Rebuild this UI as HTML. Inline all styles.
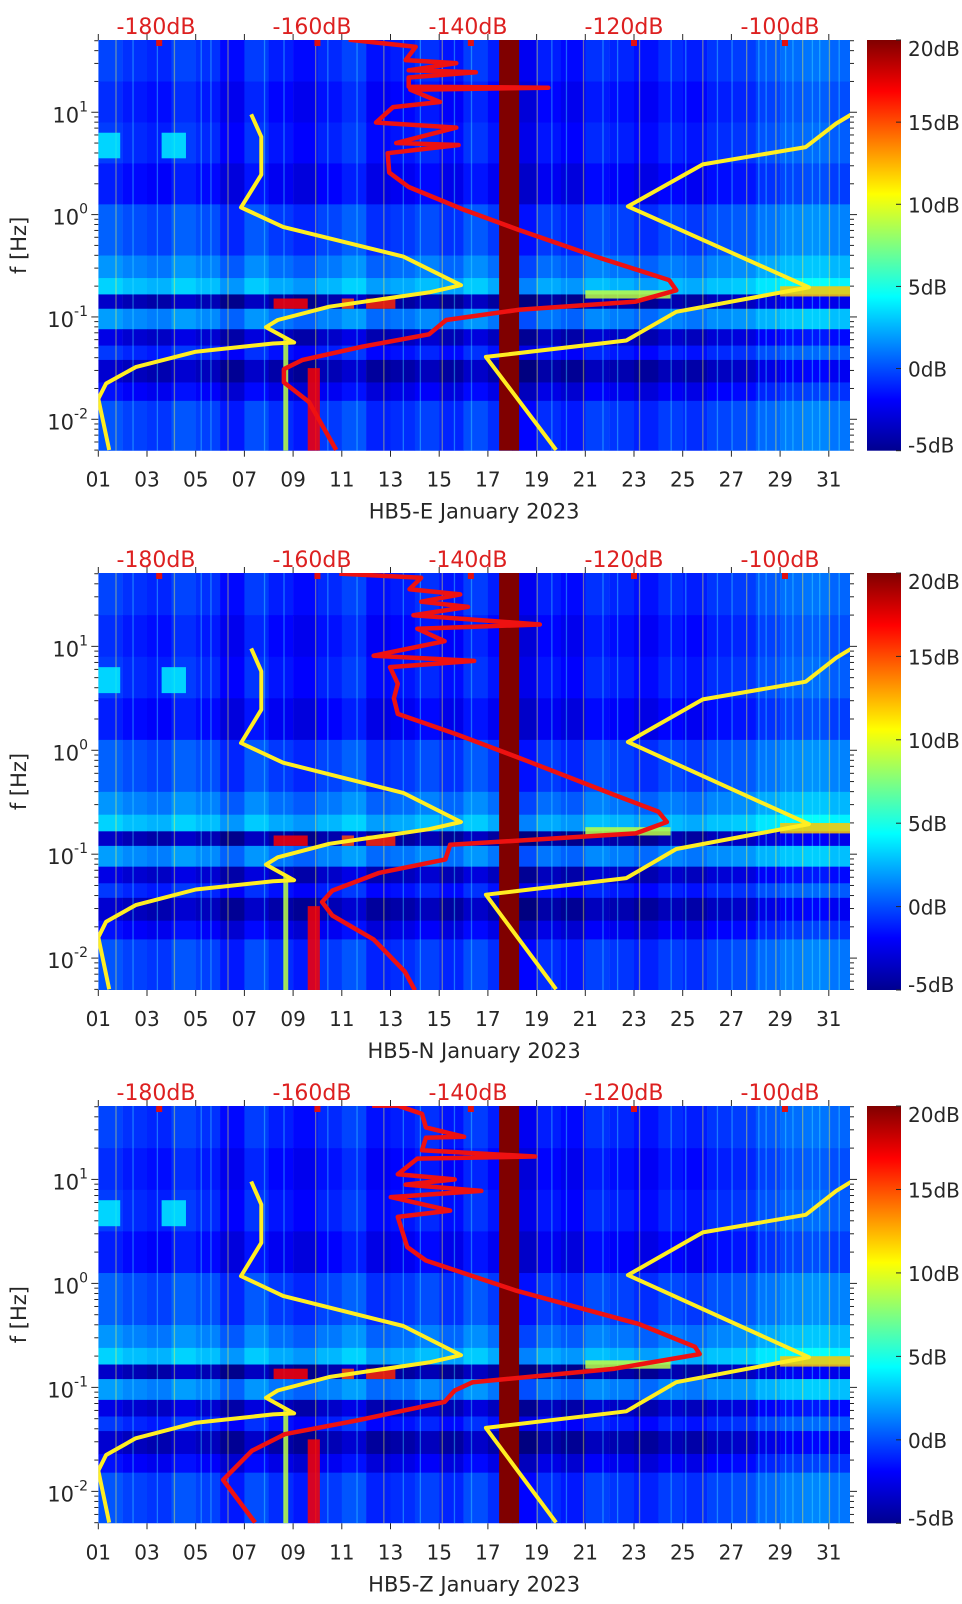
<!DOCTYPE html>
<html><head><meta charset="utf-8">
<style>
html,body{margin:0;padding:0;background:#fff;}
svg text{font-family:"DejaVu Sans","Liberation Sans",sans-serif;}
</style></head>
<body>
<svg id="fig" width="962" height="1599" viewBox="0 0 962 1599" xmlns="http://www.w3.org/2000/svg">
<defs>
<linearGradient id="jet" x1="0" y1="1" x2="0" y2="0">
<stop offset="0" stop-color="#00008f"/><stop offset="0.125" stop-color="#0000ff"/>
<stop offset="0.375" stop-color="#00ffff"/><stop offset="0.625" stop-color="#ffff00"/>
<stop offset="0.875" stop-color="#ff0000"/><stop offset="1" stop-color="#800000"/>
</linearGradient>
</defs>
</svg>
<script>
// ---- data ----
const panelNames = ["HB5-E January 2023","HB5-N January 2023","HB5-Z January 2023"];
const dayTickLabels = ["01","03","05","07","09","11","13","15","17","19","21","23","25","27","29","31"];
const dayTickValues = [1,3,5,7,9,11,13,15,17,19,21,23,25,27,29,31];
const dbTickLabels = ["-180dB","-160dB","-140dB","-120dB","-100dB"];
const dbTickValues = [-180,-160,-140,-120,-100];
const freqMajorExp = [1,0,-1,-2];
const cbarLabels = ["20dB","15dB","10dB","5dB","0dB","-5dB"];
const cbarValues = [20,15,10,5,0,-5];
const bandEdges = [1.706,1.3,0.9,0.5,0.1,-0.4,-0.62,-0.78,-0.92,-1.12,-1.28,-1.42,-1.64,-1.82,-2.307];
const bandLevels = [-1.2,-1.8,-1.4,-2.2,-0.5,0.8,2.3,-4.2,1.0,-3.5,-1.5,-4,-2.5,-0.8];
const dayOffsets = [1,0.5,0.2,1,0.5,-0.5,0.8,0,-0.5,0.3,1,-0.3,0,0.5,-0.2,0.8,0,-1,0,-0.5,0.5,0.2,-0.3,0.4,0,0.6,0.8,1.5,2,2.2,1.8];
const streakDays = [1.7,2.4,3.4,4.1,5.2,5.6,6.3,7.8,8.6,9.9,10.4,11.6,12.7,13.5,14.2,15.1,15.6,16.3,19.0,19.6,20.2,20.9,21.7,22.3,23.2,24.5,25.1,25.8,26.4,27.0,27.6,28.1,28.4,28.8,29.2,29.5,29.9,30.3,30.6,31.0,31.4];
// features: [dayStart, dayEnd, logfLo, logfHi, dB]
const features = [[8.2,9.6,-0.92,-0.82,17],[11.0,11.5,-0.92,-0.82,15],[12.0,13.2,-0.92,-0.82,16],[21,24.5,-0.82,-0.74,9],[29,31.87,-0.8,-0.7,12],[1,1.9,0.55,0.8,4],[3.6,4.6,0.55,0.8,4],[9.6,10.1,-2.307,-1.5,17],[8.6,8.8,-2.307,-1.2,9]];
const bandMarkerDays = [3.5,10,16.3,23,29.2];
const outageBar = [17.46,18.28];
// noise models (dB, log10 f)
const nlnmDb = [-167.8,-166.5,-166.5,-169.1,-163.7,-148.3,-140.9,-145.0,-157.8,-164.4,-165.9,-162.3,-165.0,-174.9,-182.6,-186.4,-187.4,-186.0];
const nlnmLogf = [0.98,0.76,0.39,0.07,-0.12,-0.41,-0.69,-0.76,-0.90,-1.03,-1.10,-1.25,-1.26,-1.34,-1.49,-1.65,-1.80,-2.30];
const nhnmDb = [-86,-92.8,-96.7,-109.9,-119.5,-96.3,-113.3,-119.7,-137.7,-128.7];
const nhnmLogf = [1.2,0.89,0.66,0.49,0.08,-0.71,-0.95,-1.23,-1.39,-2.30];
// measured PSD per panel
const psdEDb = [-155.3,-146.7,-148.0,-141.5,-147.6,-139.0,-147.6,-147.6,-129.7,-147.4,-143.6,-149.6,-151.8,-141.5,-149.2,-141.2,-150.3,-150.1,-147.6,-140.6,-133.5,-123.6,-114.2,-113.3,-118.5,-133.5,-142.8,-145.0,-153.5,-161.2,-163.6,-163.6,-160.4,-156.9];
const psdELogf = [1.71,1.64,1.51,1.48,1.41,1.39,1.34,1.25,1.24,1.22,1.10,1.05,0.90,0.85,0.70,0.68,0.60,0.41,0.27,0.05,-0.15,-0.41,-0.64,-0.74,-0.85,-0.93,-1.03,-1.17,-1.29,-1.42,-1.51,-1.64,-1.83,-2.30];
const psdNDb = [-156.5,-146.0,-147.5,-141.0,-146.0,-140.0,-147.0,-130.8,-146.5,-143,-152.1,-139.2,-150,-149,-149.5,-149,-141.7,-133.2,-121.2,-115.6,-114.5,-118.5,-142.3,-142.9,-151.4,-157.4,-158.7,-157.4,-152.1,-148.1,-146.8];
const psdNLogf = [1.70,1.66,1.55,1.50,1.43,1.38,1.30,1.21,1.17,1.05,0.91,0.86,0.80,0.64,0.50,0.35,0.16,-0.08,-0.43,-0.59,-0.69,-0.80,-0.91,-1.05,-1.18,-1.35,-1.46,-1.59,-1.82,-2.13,-2.31];
const psdZDb = [-152.3,-149,-145.9,-145.4,-140.5,-145.4,-145.9,-131.4,-146.5,-149,-141.7,-148,-138.3,-149.9,-142.3,-149,-147.8,-145.4,-133.8,-118.1,-110.9,-110.3,-121.2,-139.4,-141.7,-143.0,-154.4,-163.5,-167.7,-171.4,-167.3];
const psdZLogf = [1.71,1.71,1.63,1.50,1.41,1.40,1.28,1.22,1.20,1.05,1.00,0.95,0.89,0.83,0.70,0.64,0.35,0.22,-0.07,-0.39,-0.61,-0.68,-0.82,-0.95,-1.03,-1.14,-1.32,-1.45,-1.61,-1.89,-2.30];
const psdDb = [psdEDb, psdNDb, psdZDb];
const psdLogf = [psdELogf, psdNLogf, psdZLogf];

// ---- layout ----
const NS = "http://www.w3.org/2000/svg";
const svg = document.getElementById('fig');
const panelTops = [40,573,1106], panelBots = [450.7,990,1523.3];
const X0 = 98.3, X1 = 850, FMAX = 1.706, FMIN = -2.307;
const xDay = d => X0 + (d-1)*24.35;
const xDb = db => 156 + (db+180)*7.8;
function mk(tag, attrs, parent){const e=document.createElementNS(NS,tag);for(const k in attrs)e.setAttribute(k,attrs[k]);(parent||svg).appendChild(e);return e;}
function jet(v){const t=Math.max(0,Math.min(1,(v+5)/25));const c=x=>Math.round(255*Math.max(0,Math.min(1,1.5-Math.abs(4*t-x))));return `rgb(${c(3)},${c(2)},${c(1)})`;}

panelTops.forEach((top,p)=>{
  const bot = panelBots[p], h = bot-top;
  const yF = lf => top + (FMAX-lf)/(FMAX-FMIN)*h;
  const g = mk('g',{});
  
  
  const cp = mk('clipPath',{id:'cp'+p},g);
  mk('rect',{x:X0,y:top,width:X1-X0,height:h},cp);
  const plot = mk('g',{'clip-path':`url(#cp${p})`},g);
  
  
  for(let i=0;i<bandLevels.length;i++){
    for(let j=0;j<dayOffsets.length;j++){
      const r = mk('rect',{x:xDay(j+1),y:yF(bandEdges[i]),width:24.6,height:yF(bandEdges[i+1])-yF(bandEdges[i])+0.5,fill:jet(bandLevels[i]+dayOffsets[j])},plot);
      
      
    }
  }
  streakDays.forEach((d,k)=>{
    const s = mk('rect',{x:xDay(d),y:top,width:1.3,height:h,fill:k%3===0?'#ffff40':'#40e8ff',opacity:0.4},plot);
    
    
  });
  features.forEach(f=>{
    const r = mk('rect',{x:xDay(f[0]),y:yF(f[3]),width:xDay(f[1])-xDay(f[0]),height:yF(f[2])-yF(f[3]),fill:jet(f[4]),opacity:0.85},plot);
    
    
  });
  bandMarkerDays.forEach(d=>{
    const r = mk('rect',{x:xDay(d)-3,y:top,width:6,height:6,fill:'#e01010'},plot);
    
    
  });
  const ob = mk('rect',{x:xDay(outageBar[0]),y:top,width:xDay(outageBar[1])-xDay(outageBar[0]),height:h,fill:'#800000'},plot);
  
  
  const line=(dbs,lfs,col,name,w)=>{
    const pts = dbs.map((d,k)=>`${xDb(d).toFixed(1)},${yF(lfs[k]).toFixed(1)}`).join(' ');
    const l = mk('polyline',{points:pts,fill:'none',stroke:col,'stroke-width':w,'stroke-linejoin':'round'},plot);
    
    
  };
  line(nlnmDb,nlnmLogf,'#ffee22','nlnm-curve',4);
  line(nhnmDb,nhnmLogf,'#ffee22','nhnm-curve',4);
  line(psdDb[p],psdLogf[p],'#ee1111','psd-curve',4.5);
  const ax = mk('g',{stroke:'#262626','stroke-width':1},g);
  
  
  dayTickValues.forEach(d=>{
    mk('line',{x1:xDay(d),x2:xDay(d),y1:bot,y2:bot+6},ax);
    mk('line',{x1:xDay(d),x2:xDay(d),y1:top,y2:top-6},ax);
  });
  for(let e=-3;e<=1;e++){for(let k=1;k<10;k++){const lf=e+Math.log10(k);if(lf<FMIN||lf>FMAX)continue;const len=k===1?7:4;
    mk('line',{x1:X0-len,x2:X0,y1:yF(lf),y2:yF(lf)},ax);mk('line',{x1:X1,x2:X1+len,y1:yF(lf),y2:yF(lf)},ax);}}
  dayTickLabels.forEach((t,k)=>{
    const e = mk('text',{x:xDay(dayTickValues[k]),y:bot+36,'font-size':20,fill:'#262626','text-anchor':'middle'});
    e.textContent=t;
    
    
  });
  dbTickLabels.forEach((t,k)=>{
    const e = mk('text',{x:xDb(dbTickValues[k]),y:top-6,'font-size':22,fill:'#dd2020','text-anchor':'middle'});
    e.textContent=t;
    
    
  });
  freqMajorExp.forEach(ex=>{
    const e = mk('text',{x:88,y:yF(ex)+10,'font-size':21,fill:'#262626','text-anchor':'end'});
    const a = mk('tspan',{},e); a.textContent='10';
    const b = mk('tspan',{'font-size':14,dy:-11}, e); b.textContent=String(ex);
    
    
  });
  const yl = mk('text',{x:0,y:0,'font-size':21,fill:'#262626','text-anchor':'middle',transform:`translate(26,${(top+bot)/2}) rotate(-90)`});
  yl.textContent='f [Hz]';
  
  
  const xt = mk('text',{x:(X0+X1)/2,y:bot+68,'font-size':21,fill:'#262626','text-anchor':'middle'});
  xt.textContent=panelNames[p];
  
  
  const cb = mk('rect',{x:867,y:top,width:34,height:h,fill:'url(#jet)'},g);
  
  
  cbarValues.forEach((v,k)=>{
    const yy = top+(20-v)/25*h;
    mk('line',{x1:901,x2:896,y1:yy,y2:yy,stroke:'#262626'},g);
    const e = mk('text',{x:908,y:Math.min(Math.max(yy+8,top+16),bot+2),'font-size':20,fill:'#262626'},g);
    e.textContent=cbarLabels[k];
    
    
  });
});
</script>
</body></html>
